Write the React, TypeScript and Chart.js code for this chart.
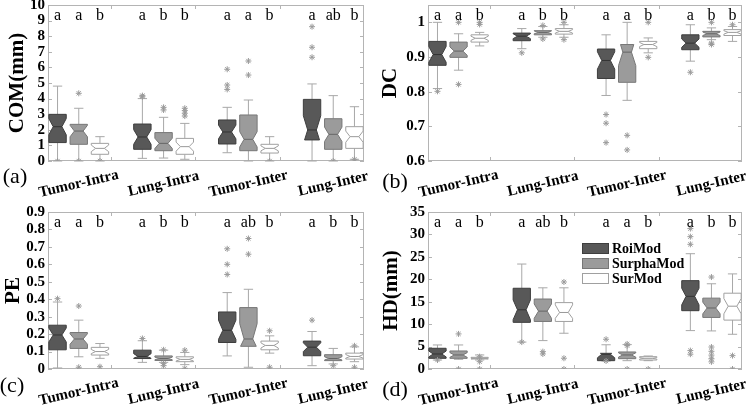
import React, { useEffect, useRef } from "react";
import { Chart, registerables } from "chart.js";
Chart.register(...registerables);

// ---------- shared categories ----------
const groups = ["Tumor-Intra", "Lung-Intra", "Tumor-Inter", "Lung-Inter"];
const methods = ["RoiMod", "SurphaMod", "SurMod"];
const positions = [1, 2, 3, 5, 6, 7, 9, 10, 11, 13, 14, 15];
const groupCenters = [2, 6, 10, 14];
const xSeparators = [3.5, 7.5, 11.5];

// ---------- (a) COM(mm) ----------
const comQ1 = [1.18, 1.07, 0.43, 0.75, 0.66, 0.43, 1.09, 0.66, 0.51, 1.35, 0.75, 0.81];
const comMed = [2.2, 1.92, 0.81, 1.54, 1.13, 0.92, 1.86, 1.39, 0.81, 1.99, 1.71, 1.56];
const comQ3 = [2.99, 2.35, 1.13, 2.37, 1.82, 1.45, 2.63, 2.95, 1.07, 3.95, 2.71, 2.2];
const comNotchLo = [1.68, 1.55, 0.6, 1.07, 0.8, 0.63, 1.42, 0.9, 0.65, 1.1, 1.25, 1.2];
const comNotchHi = [2.72, 2.29, 1.02, 2.01, 1.46, 1.21, 2.3, 1.88, 0.97, 2.9, 2.17, 1.92];
const comWhiskLo = [0, 0, 0, 0.17, 0.19, 0.11, 0.53, 0, 0, 0, 0, 0.11];
const comWhiskHi = [4.8, 3.38, 1.56, 4.0, 2.8, 2.41, 3.44, 3.91, 1.56, 4.94, 4.19, 3.48];
const comOutliers = [[0], [4.34, 0], [0], [4.19, 4.12], [3.44, 3.27], [3.38, 3.23, 3.06, 2.88], [5.88, 4.87, 4.59], [6.41, 5.51], [0], [8.61, 7.29, 6.65], [0], [0.11]];
const comLetters = ["a", "a", "b", "a", "b", "b", "a", "a", "b", "a", "ab", "b"];

// ---------- (b) DC ----------
const dcQ1 = [0.876, 0.899, 0.943, 0.947, 0.964, 0.966, 0.838, 0.827, 0.924, 0.921, 0.958, 0.962];
const dcMed = [0.907, 0.917, 0.954, 0.96, 0.971, 0.974, 0.89, 0.914, 0.936, 0.94, 0.967, 0.971];
const dcQ3 = [0.945, 0.943, 0.964, 0.969, 0.976, 0.982, 0.923, 0.936, 0.945, 0.964, 0.974, 0.979];
const dcNotchLo = [0.885, 0.905, 0.948, 0.953, 0.967, 0.969, 0.865, 0.875, 0.93, 0.928, 0.962, 0.966];
const dcNotchHi = [0.93, 0.929, 0.96, 0.967, 0.975, 0.979, 0.915, 0.955, 0.942, 0.952, 0.972, 0.976];
const dcWhiskLo = [0.809, 0.862, 0.932, 0.924, 0.957, 0.957, 0.789, 0.775, 0.912, 0.888, 0.95, 0.945];
const dcWhiskHi = [1.0, 0.967, 0.971, 0.982, 0.988, 0.993, 0.964, 1.0, 0.955, 0.993, 0.984, 0.988];
const dcOutliers = [[0.801], [1.0, 0.821], [1.0, 0.994], [0.912], [0.991, 0.952], [1.0, 0.95], [0.734, 0.709, 0.653], [0.674, 0.632], [1.0, 0.899], [0.856], [1.0, 0.94, 0.936], [0.993]];
const dcLetters = ["a", "a", "b", "a", "b", "b", "a", "a", "b", "a", "b", "b"];

// ---------- (c) PE ----------
const peQ1 = [0.11, 0.118, 0.08, 0.06, 0.049, 0.042, 0.152, 0.13, 0.11, 0.076, 0.048, 0.057];
const peMed = [0.195, 0.172, 0.1, 0.072, 0.06, 0.055, 0.222, 0.172, 0.135, 0.125, 0.06, 0.072];
const peQ3 = [0.251, 0.209, 0.124, 0.108, 0.075, 0.07, 0.327, 0.352, 0.16, 0.16, 0.082, 0.091];
const peNotchLo = [0.155, 0.142, 0.088, 0.062, 0.053, 0.046, 0.17, 0.12, 0.12, 0.1, 0.052, 0.062];
const peNotchHi = [0.235, 0.202, 0.112, 0.088, 0.068, 0.064, 0.28, 0.26, 0.15, 0.15, 0.07, 0.083];
const peWhiskLo = [0.006, 0.07, 0.061, 0.038, 0.038, 0.025, 0.075, 0.01, 0.091, 0.019, 0.029, 0.042];
const peWhiskHi = [0.384, 0.28, 0.146, 0.162, 0.108, 0.095, 0.438, 0.457, 0.19, 0.215, 0.118, 0.127];
const peOutliers = [[0.403], [0.361, 0.01], [0.013], [0.175], [0.11, 0.032, 0.019], [0.108, 0.004], [0.689, 0.6, 0.542], [0.748, 0.658], [0.219, 0.01], [0.28], [0.019], [0.133, 0.01]];
const peLetters = ["a", "a", "b", "a", "b", "b", "a", "ab", "b", "a", "b", "b"];

// ---------- (d) HD(mm) ----------
const hdQ1 = [2.38, 2.38, 2.23, 10.4, 10.6, 10.6, 1.86, 2.3, 2.0, 13.0, 11.5, 10.9];
const hdMed = [3.35, 3.13, 2.38, 13.2, 12.9, 12.6, 3.28, 3.13, 2.38, 16.2, 13.6, 14.0];
const hdQ3 = [4.62, 4.02, 2.6, 18.0, 15.6, 14.8, 3.5, 3.8, 2.75, 19.7, 15.8, 16.9];
const hdNotchLo = [2.7, 2.6, 2.28, 11.0, 11.3, 11.3, 2.5, 2.65, 2.2, 14.3, 12.3, 12.3];
const hdNotchHi = [4.0, 3.65, 2.48, 15.4, 14.5, 14.3, 4.0, 3.6, 2.55, 18.0, 14.9, 15.7];
const hdWhiskLo = [2.0, 2.16, 2.0, 6.0, 6.33, 7.97, 1.79, 1.86, 1.86, 8.56, 8.49, 7.74];
const hdWhiskHi = [5.36, 5.36, 3.13, 23.4, 18.1, 18.1, 5.4, 5.44, 2.9, 25.7, 19.0, 21.2];
const hdOutliers = [[2.0], [7.82, 0], [2.75, 1.64, 0], [6.0], [3.87, 3.35], [19.4, 2.4, 0], [6.63, 1.79], [5.58, 5.21, 0], [0], [31.3, 29.5, 27.8, 4.1, 3.3], [20.5, 4.9, 3.95, 3.1, 2.3, 1.6], [2.98, 0]];
const hdLetters = ["a", "a", "b", "a", "ab", "b", "a", "a", "b", "a", "b", "b"];

// ---------- styles / layout ----------
const FONT = "'Liberation Serif', 'Times New Roman', serif";
const FRAME = "#b4b4b4";
const WHISKER = "#a8a8a8";
const FILLS = ["#585858", "#9b9b9b", "#ffffff"];
const EDGES = ["#3e3e3e", "#777777", "#a0a0a0"];
const MEDIANS = ["#333333", "#666666", "#999999"];
const OUTLIER = "#9a9a9a";
const BOX_W = 0.82;
const CAP_W = 0.22;
const AXIS_W = 30;

type Panel = {
  q1: number[]; med: number[]; q3: number[]; nlo: number[]; nhi: number[];
  wlo: number[]; whi: number[]; out: number[][]; letters: string[];
  min: number; max: number; step: number; title: string; tag: string;
  frame: { L: number; T: number; R: number; B: number };
  titleX: number; tagX: number; tagY: number; legend: boolean;
};

const panels: Panel[] = [
  { q1: comQ1, med: comMed, q3: comQ3, nlo: comNotchLo, nhi: comNotchHi, wlo: comWhiskLo, whi: comWhiskHi, out: comOutliers, letters: comLetters,
    min: 0, max: 10, step: 1, title: "COM(mm)", tag: "(a)", frame: { L: 48, T: 4, R: 364, B: 161 }, titleX: 18, tagX: 15, tagY: 177, legend: false },
  { q1: dcQ1, med: dcMed, q3: dcQ3, nlo: dcNotchLo, nhi: dcNotchHi, wlo: dcWhiskLo, whi: dcWhiskHi, out: dcOutliers, letters: dcLetters,
    min: 0.6, max: 1.05, step: 0.1, title: "DC", tag: "(b)", frame: { L: 428, T: 4, R: 742, B: 161 }, titleX: 391, tagX: 395, tagY: 182, legend: false },
  { q1: peQ1, med: peMed, q3: peQ3, nlo: peNotchLo, nhi: peNotchHi, wlo: peWhiskLo, whi: peWhiskHi, out: peOutliers, letters: peLetters,
    min: 0, max: 0.9, step: 0.1, title: "PE", tag: "(c)", frame: { L: 48, T: 212, R: 364, B: 369 }, titleX: 14, tagX: 12, tagY: 386, legend: false },
  { q1: hdQ1, med: hdMed, q3: hdQ3, nlo: hdNotchLo, nhi: hdNotchHi, wlo: hdWhiskLo, whi: hdWhiskHi, out: hdOutliers, letters: hdLetters,
    min: 0, max: 35, step: 5, title: "HD(mm)", tag: "(d)", frame: { L: 428, T: 212, R: 742, B: 369 }, titleX: 392, tagX: 395, tagY: 390, legend: true },
];

function makePlugin(p: Panel) {
  return {
    id: "notchedBoxes",
    beforeDatasetsDraw(chart: any) {
      const ctx = chart.ctx as CanvasRenderingContext2D;
      const a = chart.chartArea;
      const xs = chart.scales.x;
      const ys = chart.scales.y;
      const line = (x1: number, y1: number, x2: number, y2: number) => {
        ctx.beginPath(); ctx.moveTo(x1, y1); ctx.lineTo(x2, y2); ctx.stroke();
      };
      ctx.save();
      ctx.lineWidth = 1;
      ctx.strokeStyle = FRAME;
      ctx.strokeRect(a.left + 0.5, a.top + 0.5, a.right - a.left - 1, a.bottom - a.top - 1);
      ys.ticks.forEach((t: any) => {
        const y = Math.round(ys.getPixelForValue(t.value)) + 0.5;
        line(a.left, y, a.left + 4, y);
        line(a.right - 4, y, a.right, y);
      });
      xSeparators.forEach((v) => {
        const x = Math.round(xs.getPixelForValue(v)) + 0.5;
        line(x, a.top, x, a.top + 4);
        line(x, a.bottom, x, a.bottom - 4);
      });
      for (let i = 0; i < positions.length; i++) {
        const m = i % 3;
        const x = xs.getPixelForValue(positions[i]);
        const hw = xs.getPixelForValue(positions[i] + BOX_W / 2) - x;
        const cw = xs.getPixelForValue(positions[i] + CAP_W) - x;
        const py = (v: number) => ys.getPixelForValue(v);
        const q1 = p.q1[i], q3 = p.q3[i], med = p.med[i], nlo = p.nlo[i], nhi = p.nhi[i];
        ctx.strokeStyle = WHISKER;
        line(x, py(q3), x, py(p.whi[i]));
        line(x, py(q1), x, py(p.wlo[i]));
        line(x - cw, py(p.whi[i]), x + cw, py(p.whi[i]));
        line(x - cw, py(p.wlo[i]), x + cw, py(p.wlo[i]));
        const pts: [number, number][] = [];
        const fq1 = nlo < q1 ? 0.5 + 0.5 * (med - q1) / Math.max(med - nlo, 1e-9) : 1;
        const fq3 = nhi > q3 ? 0.5 + 0.5 * (q3 - med) / Math.max(nhi - med, 1e-9) : 1;
        pts.push([fq1, q1]);
        if (nlo > q1) pts.push([1, nlo]);
        pts.push([0.5, med]);
        if (nhi < q3) pts.push([1, nhi]);
        pts.push([fq3, q3]);
        ctx.beginPath();
        pts.forEach(([f, v], k) => {
          if (k === 0) ctx.moveTo(x - hw * f, py(v)); else ctx.lineTo(x - hw * f, py(v));
        });
        for (let k = pts.length - 1; k >= 0; k--) ctx.lineTo(x + hw * pts[k][0], py(pts[k][1]));
        ctx.closePath();
        ctx.fillStyle = FILLS[m];
        ctx.fill();
        ctx.strokeStyle = EDGES[m];
        ctx.stroke();
        ctx.strokeStyle = MEDIANS[m];
        line(x - hw * 0.5, py(med), x + hw * 0.5, py(med));
      }
      ctx.restore();
    },
    afterDraw(chart: any) {
      const ctx = chart.ctx as CanvasRenderingContext2D;
      const a = chart.chartArea;
      const xs = chart.scales.x;
      ctx.save();
      ctx.fillStyle = "#000";
      ctx.textAlign = "center";
      ctx.textBaseline = "alphabetic";
      ctx.font = `16px ${FONT}`;
      p.letters.forEach((s, i) => ctx.fillText(s, xs.getPixelForValue(positions[i]), a.top + 15));
      ctx.font = `bold 15px ${FONT}`;
      ctx.textBaseline = "middle";
      groups.forEach((g, k) => {
        ctx.save();
        ctx.translate(xs.getPixelForValue(groupCenters[k]), a.bottom + 23);
        ctx.rotate((-13 * Math.PI) / 180);
        ctx.fillText(g, 0, 0);
        ctx.restore();
      });
      ctx.font = `22px ${FONT}`;
      ctx.fillText(p.tag, p.tagX, p.tagY);
      ctx.save();
      ctx.translate(p.titleX, (a.top + a.bottom) / 2);
      ctx.rotate(-Math.PI / 2);
      ctx.font = `bold 21px ${FONT}`;
      ctx.fillText(p.title, 0, 0);
      ctx.restore();
      if (p.legend) {
        const lx = 582, ly = [243, 258, 273];
        methods.forEach((name, m) => {
          ctx.fillStyle = FILLS[m];
          ctx.fillRect(lx, ly[m], 27, 11);
          ctx.strokeStyle = EDGES[m];
          ctx.lineWidth = 1;
          ctx.strokeRect(lx + 0.5, ly[m] + 0.5, 26, 10);
          ctx.fillStyle = "#000";
          ctx.textAlign = "left";
          ctx.font = `bold 14px ${FONT}`;
          ctx.fillText(name, lx + 30, ly[m] + 6);
        });
      }
      ctx.restore();
    },
  };
}

function PanelChart({ p }: { p: Panel }) {
  const ref = useRef<HTMLCanvasElement | null>(null);
  useEffect(() => {
    if (!ref.current) return;
    const pts: { x: number; y: number }[] = [];
    p.out.forEach((list, i) => list.forEach((v) => pts.push({ x: positions[i], y: v })));
    const chart = new Chart(ref.current, {
      type: "scatter",
      data: {
        datasets: [
          { data: pts, pointStyle: "star", radius: 3, borderColor: OUTLIER, backgroundColor: OUTLIER, borderWidth: 1 } as any,
        ],
      },
      options: {
        animation: false,
        responsive: false,
        devicePixelRatio: 1,
        events: [],
        layout: { padding: { left: p.frame.L - AXIS_W, top: p.frame.T, right: 750 - p.frame.R, bottom: 407 - p.frame.B } },
        plugins: { legend: { display: false }, tooltip: { enabled: false } },
        scales: {
          x: { type: "linear", min: 0.55, max: 15.45, display: false },
          y: {
            type: "linear", min: p.min, max: p.max + 1e-9,
            grid: { display: false, drawTicks: false },
            border: { display: false },
            ticks: {
              stepSize: p.step, includeBounds: false, autoSkip: false, maxTicksLimit: 100, padding: 3, color: "#000",
              font: { family: FONT, weight: "bold", size: 15 },
              callback: (v: any) => String(+Number(v).toFixed(2)),
            },
            afterFit: (s: any) => { s.width = AXIS_W; s.paddingTop = 0; s.paddingBottom = 0; },
          } as any,
        },
      },
      plugins: [makePlugin(p)],
    });
    return () => chart.destroy();
  }, [p]);
  return <canvas ref={ref} width={750} height={407} style={{ position: "absolute", left: 0, top: 0 }} />;
}

export default function App() {
  return (
    <div style={{ position: "absolute", left: 0, top: 0, width: 750, height: 407, background: "#fff" }}>
      {panels.map((p) => (
        <PanelChart key={p.tag} p={p} />
      ))}
    </div>
  );
}
